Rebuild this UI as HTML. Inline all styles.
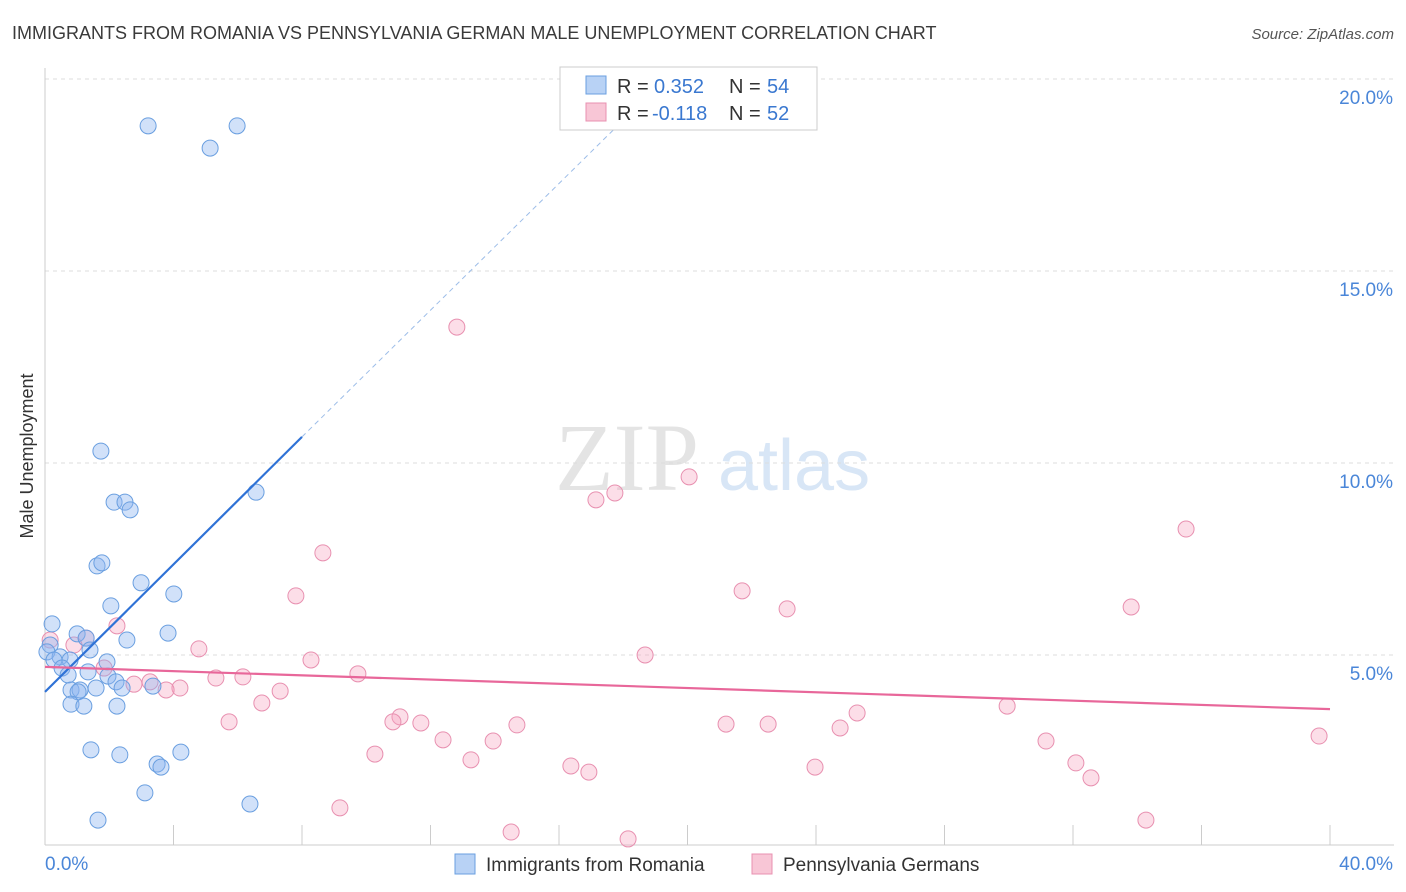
<!DOCTYPE html>
<html><head><meta charset="utf-8"><style>
body{margin:0;background:#fff;font-family:"Liberation Sans",sans-serif;}
#wrap{position:relative;width:1406px;height:892px;overflow:hidden;}
</style></head><body>
<div id="wrap">
<svg id="svg" width="1406" height="892" xmlns="http://www.w3.org/2000/svg">
<text x="12" y="39" font-size="18" fill="#3a3a3a">IMMIGRANTS FROM ROMANIA VS PENNSYLVANIA GERMAN MALE UNEMPLOYMENT CORRELATION CHART</text>
<text x="1394" y="39" font-size="15" fill="#555" font-style="italic" text-anchor="end">Source: ZipAtlas.com</text>
<text x="33" y="456" font-size="18" fill="#333" transform="rotate(-90 33 456)" text-anchor="middle">Male Unemployment</text>
<text x="555" y="490" font-size="96" fill="#e4e4e4" font-family="Liberation Serif,serif">ZIP</text>
<text x="718" y="490" font-size="72" fill="#d8e6f6">atlas</text>
<g id="grid"></g><g id="pts"></g><g id="lines"></g>
<g>
<rect x="560" y="67" width="257" height="63" fill="#fff" stroke="#ccc"/>
<rect x="586" y="76" width="20" height="18" fill="#b8d2f5" stroke="#6a9fe0"/>
<rect x="586" y="103" width="20" height="18" fill="#f8c6d6" stroke="#e890b0"/>
<text x="617" y="93" font-size="20" fill="#333">R =</text>
<text x="654" y="93" font-size="20" fill="#3a78d0">0.352</text>
<text x="729" y="93" font-size="20" fill="#333">N =</text>
<text x="767" y="93" font-size="20" fill="#3a78d0">54</text>
<text x="617" y="120" font-size="20" fill="#333">R =</text>
<text x="652" y="120" font-size="20" fill="#3a78d0">-0.118</text>
<text x="729" y="120" font-size="20" fill="#333">N =</text>
<text x="767" y="120" font-size="20" fill="#3a78d0">52</text>
</g>
<g>
<rect x="455" y="854" width="20" height="20" fill="#b8d2f5" stroke="#6a9fe0"/>
<text x="486" y="871" font-size="19" fill="#333">Immigrants from Romania</text>
<rect x="752" y="854" width="20" height="20" fill="#f8c6d6" stroke="#e890b0"/>
<text x="783" y="871" font-size="19" fill="#333">Pennsylvania Germans</text>
</g>
</svg>
</div>
<script>
const xTicks=[0,4,8,12,16,20,24,28,32,36,40];
const yTicks=[5,10,15,20];
const yTickLabels=["5.0%","10.0%","15.0%","20.0%"];
const blueX=[3.21,5.98,5.14,1.74,6.57,2.15,2.49,2.65,1.62,1.77,2.99,4.01,2.05,0.22,3.83,2.55,1.0,1.28,0.16,0.06,0.47,0.28,0.78,1.40,1.93,0.53,0.72,1.34,1.96,2.21,2.40,1.59,3.36,0.81,1.09,1.03,0.81,1.21,2.24,1.43,2.33,4.23,3.49,3.61,3.11,6.38,1.65];
const blueY=[18.78,18.78,18.2,10.31,9.24,8.98,8.98,8.78,7.32,7.40,6.88,6.59,6.28,5.81,5.57,5.39,5.55,5.44,5.26,5.08,4.95,4.87,4.87,5.13,4.82,4.66,4.48,4.56,4.45,4.30,4.14,4.14,4.19,4.09,4.09,4.04,3.72,3.67,3.67,2.53,2.40,2.47,2.16,2.08,1.41,1.12,0.70];
const pinkX=[12.82,20.05,17.74,17.15,35.52,8.65,21.70,7.81,23.10,33.81,2.24,1.28,0.16,0.90,4.79,18.68,8.28,1.84,9.74,5.32,6.16,3.27,2.77,4.20,3.77,7.32,6.75,29.95,25.28,5.73,11.05,10.83,11.70,14.69,21.20,22.51,24.75,12.39,13.95,31.16,39.66,10.27,13.26,16.37,16.93,23.97,32.09,32.56,9.18,14.51,34.27,18.15];
const pinkY=[13.54,9.64,9.22,9.04,8.28,7.66,6.67,6.54,6.20,6.25,5.76,5.44,5.39,5.26,5.16,5.0,4.87,4.66,4.51,4.40,4.43,4.30,4.24,4.14,4.09,4.06,3.75,3.67,3.49,3.26,3.39,3.26,3.23,3.18,3.20,3.20,3.10,2.79,2.76,2.76,2.89,2.42,2.27,2.11,1.95,2.08,2.19,1.80,1.02,0.39,0.70,0.21];
const blueTrend=[[0,4.04],[8,10.68]];
const blueDash=[[8,10.68],[19.3,20.0]];
const pinkTrend=[[0,4.69],[40,3.59]];
const NS="http://www.w3.org/2000/svg";
const sx=v=>45+v*32.125, sy=v=>847-v*38.4;
function mk(t,a,p){const e=document.createElementNS(NS,t);for(const k in a)e.setAttribute(k,a[k]);p.appendChild(e);return e;}
const grid=document.getElementById('grid');
yTicks.forEach((t,i)=>{
 const l=mk('line',{x1:45,x2:1394,y1:sy(t),y2:sy(t),stroke:'#ddd','stroke-dasharray':'4,4'},grid);
 
 
 const tx=mk('text',{x:1393,y:sy(t)+25,'font-size':19,fill:'#4a86d8','text-anchor':'end'},grid);
 tx.textContent=yTickLabels[i];
 
 
});
const ax=mk('line',{x1:45,x2:1394,y1:845,y2:845,stroke:'#ccc'},grid);


const ay=mk('line',{x1:45,x2:45,y1:68,y2:845,stroke:'#ccc'},grid);


xTicks.forEach(t=>{const l=mk('line',{x1:sx(t),x2:sx(t),y1:825,y2:845,stroke:'#ccc'},grid);
 
 });
[[0,"0.0%",45,'start'],[40,"40.0%",1393,'end']].forEach(d=>{const t=mk('text',{x:d[2],y:870,'font-size':19,fill:'#4a86d8','text-anchor':d[3]},grid);t.textContent=d[1];
 
 });
const pts=document.getElementById('pts');
pinkX.forEach((x,i)=>{const c=mk('circle',{cx:sx(x),cy:sy(pinkY[i]),r:8,fill:'rgba(245,160,190,0.35)',stroke:'#e890b0','stroke-width':1},pts);
 
 });
blueX.forEach((x,i)=>{const c=mk('circle',{cx:sx(x),cy:sy(blueY[i]),r:8,fill:'rgba(140,180,240,0.4)',stroke:'#6a9fe0','stroke-width':1},pts);
 
 });
const lines=document.getElementById('lines');
function ln(p,st,dash,name){const l=mk('line',{x1:sx(p[0][0]),y1:sy(p[0][1]),x2:sx(p[1][0]),y2:sy(p[1][1]),stroke:st,'stroke-width':dash?1:2.2},lines);
 if(dash)l.setAttribute('stroke-dasharray','5,4');
 
 }
ln(blueTrend,'#2f72d6',false,'romania-trendline');
ln(blueDash,'#9dbde8',true,'romania-trendline-extension');
ln(pinkTrend,'#e8679a',false,'pa-german-trendline');
</script>
</body></html>
